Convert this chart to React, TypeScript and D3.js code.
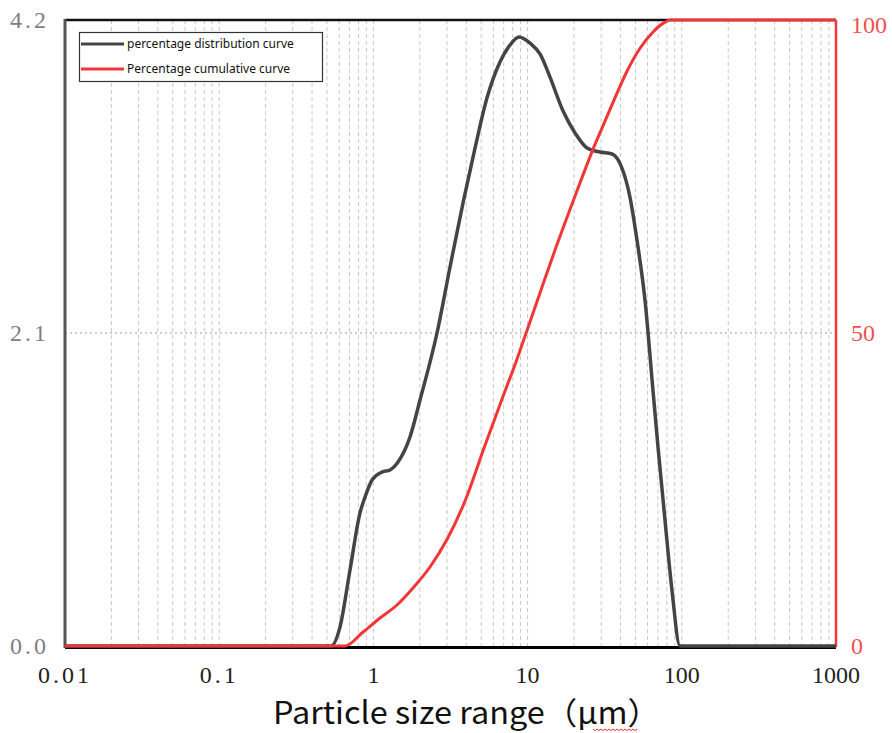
import React from "react";
import * as d3 from "d3";

const distX = [0.01, 0.531, 0.607, 0.705, 0.818, 0.883, 0.98, 1.137, 1.282, 1.444, 1.727, 2.006, 2.585, 3.14, 3.81, 4.56, 5.45, 6.62, 7.69, 8.79, 10.37, 12.03, 13.97, 16.98, 20.3, 24.3, 29.5, 35.3, 40.9, 46.1, 51.2, 57.7, 65.0, 70.1, 77.8, 86.3, 97.3, 1000];
const distY = [0, 0, 0.127, 0.51, 0.892, 1.0, 1.114, 1.167, 1.181, 1.234, 1.402, 1.65, 2.1, 2.543, 2.972, 3.341, 3.676, 3.918, 4.032, 4.086, 4.045, 3.972, 3.817, 3.589, 3.442, 3.341, 3.314, 3.301, 3.207, 3.012, 2.724, 2.321, 1.717, 1.335, 0.845, 0.376, 0, 0];

const cumX = [0.01, 0.655, 0.857, 1.104, 1.422, 1.806, 2.328, 3.0, 4.03, 5.16, 6.79, 8.5, 9.77, 12.03, 15.06, 20.81, 26.7, 30.97, 35.97, 43.95, 53.6, 65.3, 75.9, 84, 1000];
const cumY = [0, 0, 2.24, 4.47, 6.55, 9.27, 12.62, 17.0, 23.85, 31.31, 39.3, 45.69, 49.95, 56.39, 63.26, 72.57, 79.5, 83.22, 86.95, 91.74, 95.48, 98.13, 99.5, 100, 100];

const xTicks = [0.01, 0.1, 1, 10, 100, 1000];
const xTickLabels = ["0.01", "0.1", "1", "10", "100", "1000"];
const leftTicks = [0, 2.1, 4.2];
const leftTickLabels = ["0.0", "2.1", "4.2"];
const rightTicks = [0, 50, 100];
const rightTickLabels = ["0", "50", "100"];

const seriesNames = ["percentage distribution curve", "Percentage cumulative curve"];
const xTitle = "Particle size range（μm）";

export default function App() {
  const W = 892, H = 733;
  const L = 65, R = 836, T = 20, B = 646;
  const x = d3.scaleLog().domain([0.01, 1000]).range([L, R]);
  const yL = d3.scaleLinear().domain([0, 4.2]).range([B, T]);
  const yR = d3.scaleLinear().domain([0, 100]).range([B, T]);

  const minor: number[] = [];
  for (let e = -2; e < 3; e++) {
    for (let m = 1; m <= 9; m++) {
      const v = m * Math.pow(10, e);
      if (v > 0.01) minor.push(v);
    }
  }

  const distLine = d3.line<number>()
    .x((_, i) => x(distX[i]))
    .y((d) => yL(d))
    .curve(d3.curveMonotoneX);
  const cumLine = d3.line<number>()
    .x((_, i) => x(cumX[i]))
    .y((d) => yR(d))
    .curve(d3.curveMonotoneX);

  const serif = "'Liberation Serif', 'DejaVu Serif', serif";
  const sans = "'Noto Sans', 'Open Sans', sans-serif";

  const wave: string[] = [];
  for (let i = 0; i <= 22; i++) {
    wave.push(`${i === 0 ? "M" : "L"}${593 + i * 2},${729 + (i % 2 === 0 ? 0 : 1.6)}`);
  }

  return (
    <svg width={W} height={H} style={{ position: "absolute", left: 0, top: 0, display: "block", background: "#fff" }}>
      {minor.map((v, i) => (
        <line key={i} x1={x(v)} x2={x(v)} y1={T} y2={B} stroke="#c8c8c8" strokeWidth={1} strokeDasharray="4,3" />
      ))}
      <line x1={L} x2={R} y1={yL(2.1)} y2={yL(2.1)} stroke="#9a9a9a" strokeWidth={1} strokeDasharray="2,3" />

      <line x1={L} x2={R} y1={T} y2={T} stroke="#111" strokeWidth={2.5} />
      <line x1={R} x2={R} y1={T} y2={B + 1} stroke="#f03a3a" strokeWidth={2.5} />
      <line x1={L} x2={L} y1={T - 1} y2={B + 2} stroke="#555" strokeWidth={3} />
      <line x1={L} x2={R} y1={B + 1.5} y2={B + 1.5} stroke="#000" strokeWidth={3} />

      <path d={distLine(distY) || ""} fill="none" stroke="#444" strokeWidth={3.5} strokeLinejoin="round" />
      <path d={cumLine(cumY) || ""} fill="none" stroke="#f23636" strokeWidth={3} strokeLinejoin="round" />

      {leftTicks.map((v, i) => (
        <text key={i} x={10} y={yL(v)} dy="0.35em" fontFamily={serif} fontSize={24} fill="#808080" letterSpacing={3}>
          {leftTickLabels[i]}
        </text>
      ))}
      {rightTicks.map((v, i) => (
        <text key={i} x={851} y={yR(v) + (v === 100 ? 5 : 0)} dy="0.35em" fontFamily={serif} fontSize={24} fill="#f05050">
          {rightTickLabels[i]}
        </text>
      ))}
      {xTicks.map((v, i) => (
        <text key={i} x={x(v)} y={683} textAnchor="middle" fontFamily={serif} fontSize={24} fill="#222" letterSpacing={v < 1 ? 3 : 0}>
          {xTickLabels[i]}
        </text>
      ))}

      <text x={273} y={724} fontFamily="'Noto Sans CJK SC', 'Noto Sans', sans-serif" fontSize={31} fill="#111" textLength={387} lengthAdjust="spacingAndGlyphs">
        {xTitle}
      </text>
      <path d={wave.join("")} fill="none" stroke="#e03030" strokeWidth={1} />

      <rect x={79.5} y={32.5} width={243} height={49} fill="#fff" stroke="#333" strokeWidth={1.2} />
      <line x1={81} x2={124} y1={44} y2={44} stroke="#444" strokeWidth={3} />
      <line x1={81} x2={124} y1={69} y2={69} stroke="#f23636" strokeWidth={3} />
      <text x={127} y={44} dy="0.35em" fontFamily={sans} fontSize={12} fill="#111">{seriesNames[0]}</text>
      <text x={127} y={69} dy="0.35em" fontFamily={sans} fontSize={12} fill="#111">{seriesNames[1]}</text>
    </svg>
  );
}
